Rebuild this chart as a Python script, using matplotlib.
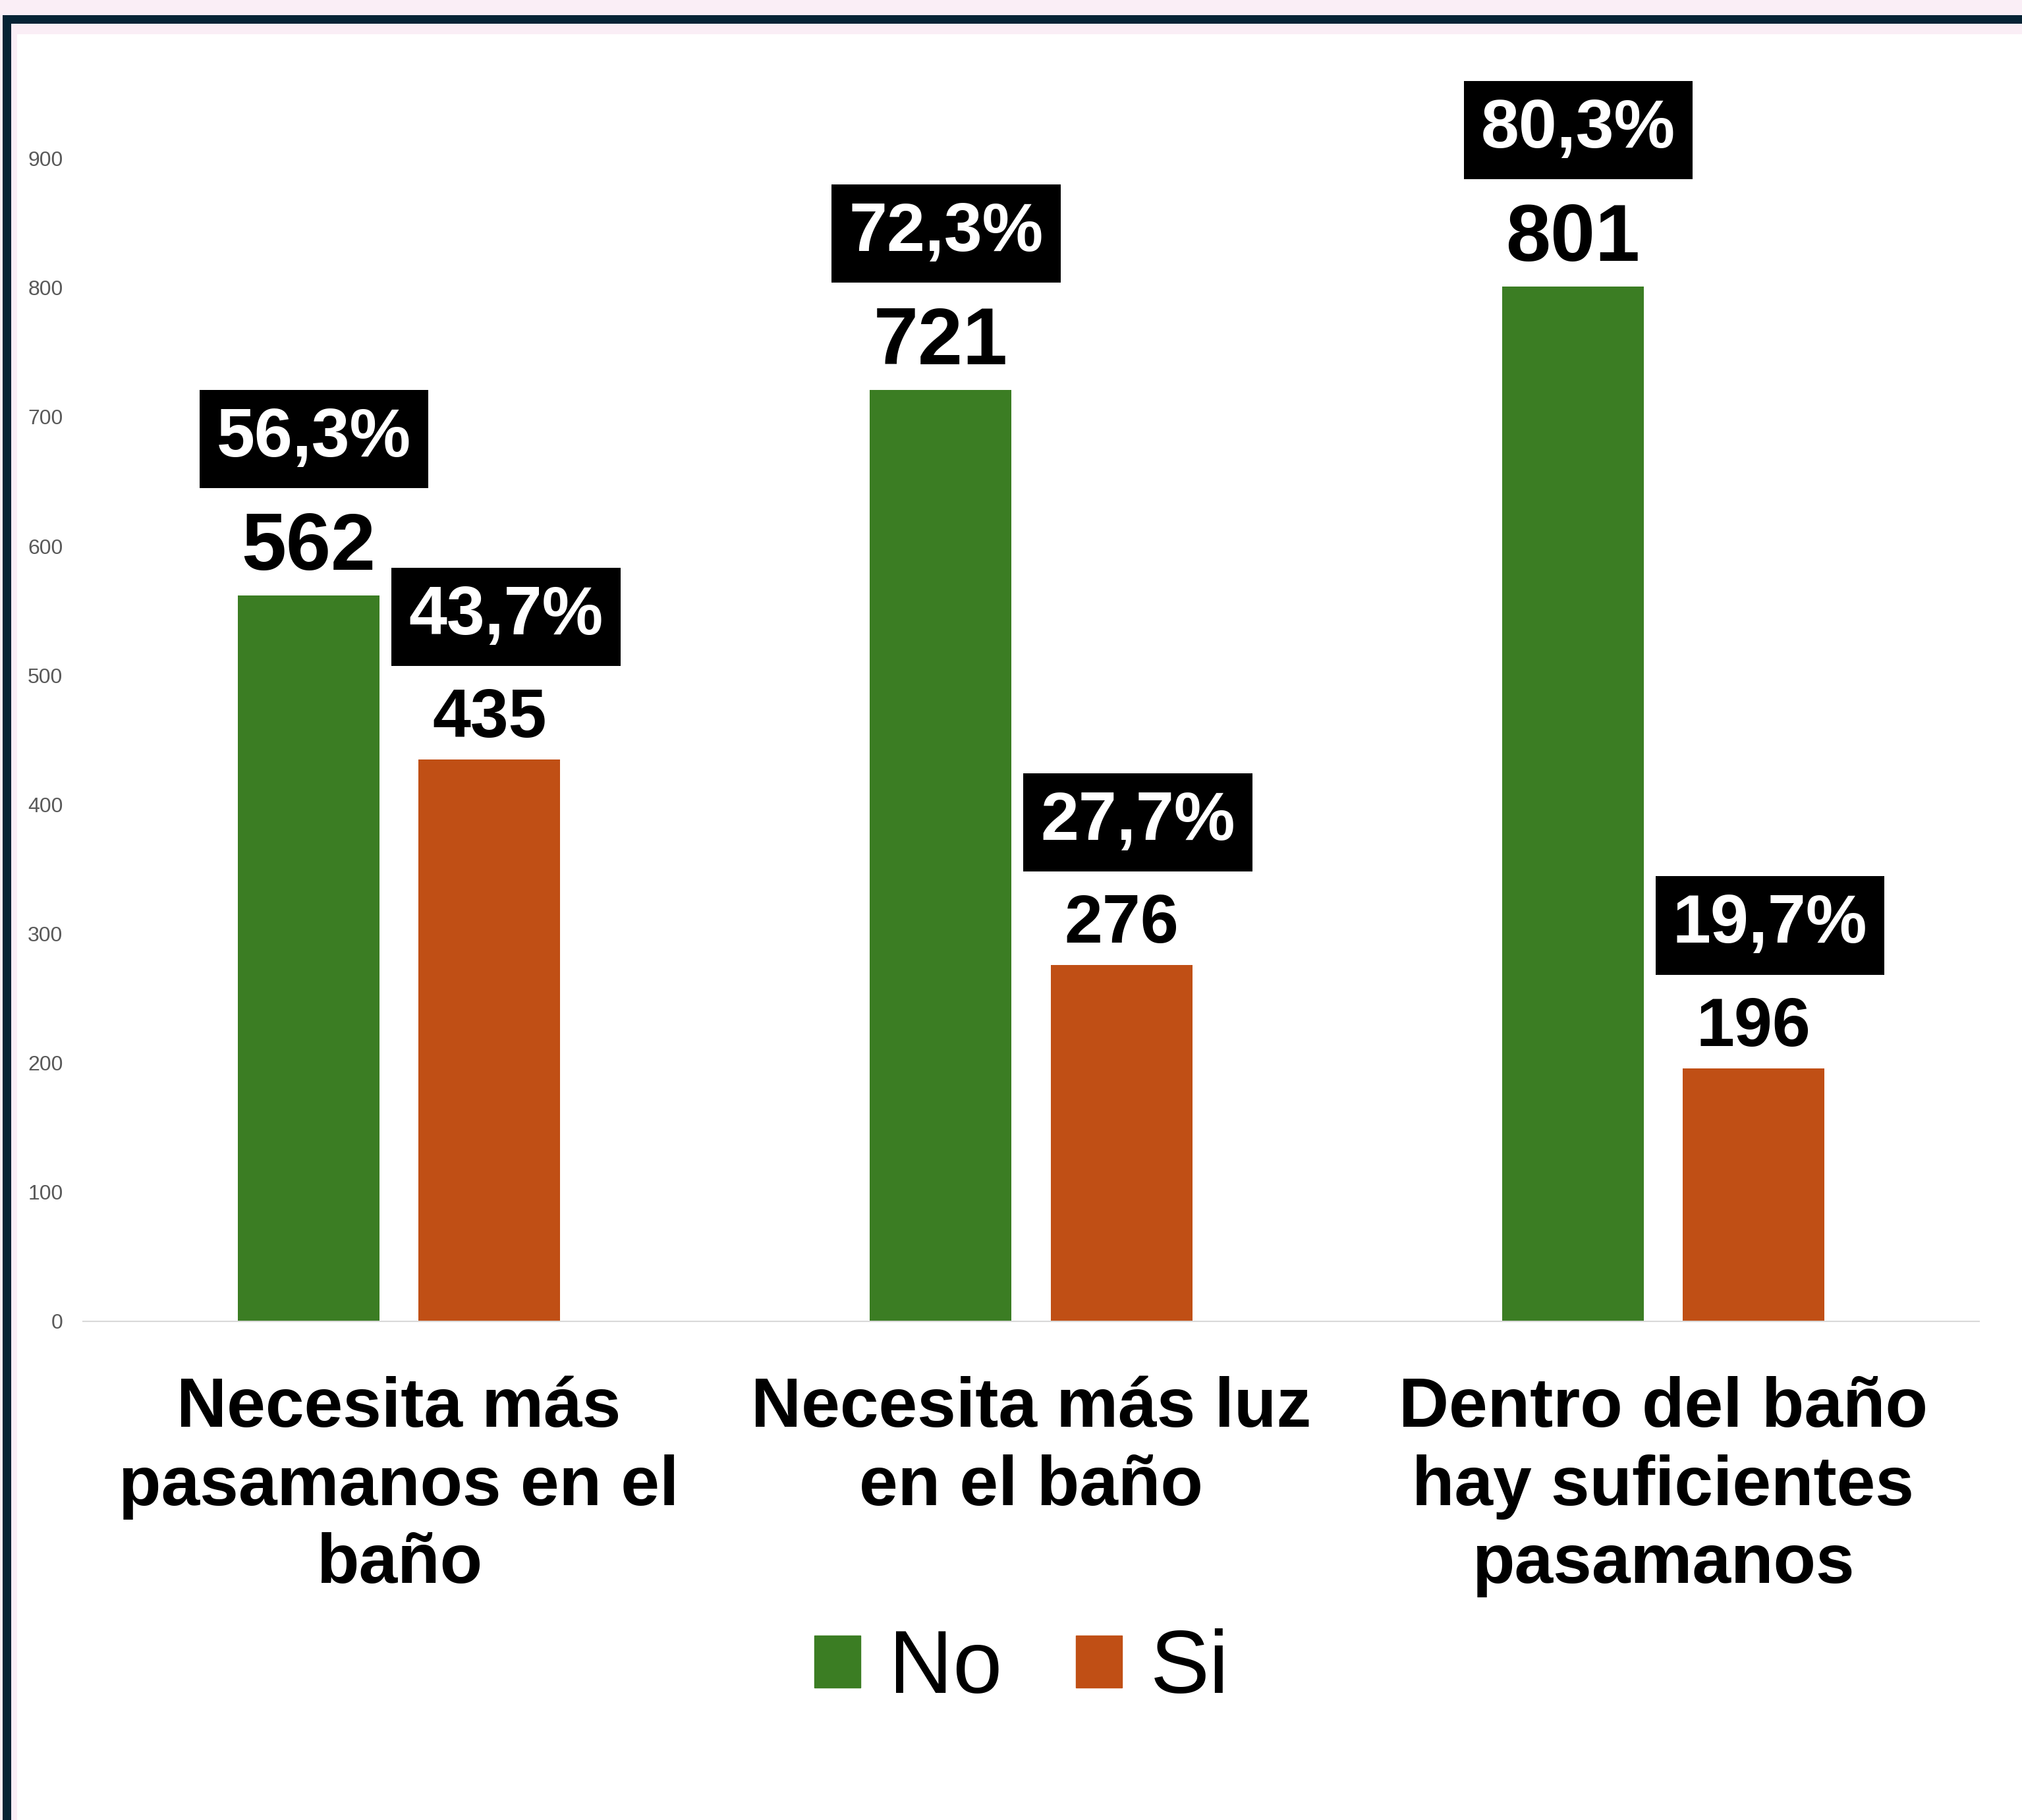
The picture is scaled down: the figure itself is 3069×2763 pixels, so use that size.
import matplotlib
matplotlib.use('Agg')
import matplotlib.pyplot as plt
from matplotlib.patches import Rectangle, Patch
import numpy as np

plt.rcParams['font.family'] = ['Liberation Sans', 'DejaVu Sans']

categories = ['Necesita más\npasamanos en el\nbaño',
              'Necesita más luz\nen el baño',
              'Dentro del baño\nhay suficientes\npasamanos']
series = ['No', 'Si']
no_vals = [562, 721, 801]
si_vals = [435, 276, 196]
no_pct = ['56,3%', '72,3%', '80,3%']
si_pct = ['43,7%', '27,7%', '19,7%']
yticks = [0, 100, 200, 300, 400, 500, 600, 700, 800, 900]

green = '#3B7D23'
orange = '#C04F15'
navy = '#062335'
pink = '#FAEEF6'

W, H = 3069, 2763
fig = plt.figure(figsize=(W / 100, H / 100), dpi=100, facecolor='white')

# screenshot frame: pink margin + dark border on top and left
def px_rect(x0, y0, x1, y1, color):
    fig.patches.append(Rectangle((x0 / W, 1 - y1 / H), (x1 - x0) / W, (y1 - y0) / H,
                                 transform=fig.transFigure, fc=color, ec='none', zorder=0))

px_rect(0, 0, W, 52, pink)
px_rect(0, 0, 26, H, pink)
px_rect(4, 23, W, 36, navy)
px_rect(4, 23, 17, H, navy)

ax = fig.add_axes([126 / W, 0.27398, 2878 / W, 950 * 1.9615 / H])
ax.set_facecolor('none')

x = np.arange(len(categories))
bw = 0.224
off = 0.143
b1 = ax.bar(x - off, no_vals, bw, color=green, label=series[0])
b2 = ax.bar(x + off, si_vals, bw, color=orange, label=series[1])

ax.set_xlim(-0.5, 2.5)
ax.set_ylim(0, 950)
ax.set_yticks(yticks)
ax.set_yticklabels([str(t) for t in yticks])
ax.tick_params(axis='y', length=0, pad=22, labelsize=23, labelcolor='#595959')
ax.set_xticks(x)
ax.set_xticklabels(categories, fontsize=76, fontweight='bold', linespacing=1.25)
ax.tick_params(axis='x', length=0, pad=60)

for s in ['top', 'right', 'left']:
    ax.spines[s].set_visible(False)
ax.spines['bottom'].set_color('#D9D9D9')
ax.spines['bottom'].set_linewidth(1.5)

# value labels and percent boxes
for xi, v, p in zip(x - off, no_vals, no_pct):
    ax.annotate(str(v), (xi, v), xytext=(0, 28), textcoords='offset points',
                ha='center', va='baseline', fontsize=88, fontweight='bold', color='black')
    ax.annotate(p, (xi, v), xytext=(6, 136), textcoords='offset points',
                ha='center', va='bottom', fontsize=75, fontweight='bold', color='white',
                bbox=dict(boxstyle='square,pad=0.25', fc='black', ec='none'))

for xi, v, p in zip(x + off, si_vals, si_pct):
    ax.annotate(str(v), (xi, v), xytext=(0, 24), textcoords='offset points',
                ha='center', va='baseline', fontsize=75, fontweight='bold', color='black')
    ax.annotate(p, (xi, v), xytext=(18, 121), textcoords='offset points',
                ha='center', va='bottom', fontsize=75, fontweight='bold', color='white',
                bbox=dict(boxstyle='square,pad=0.25', fc='black', ec='none'))

handles = [Patch(color=green, label='No'), Patch(color=orange, label='Si')]
fig.legend(handles=handles, loc='center', bbox_to_anchor=(1551 / W, 1 - 2535 / H),
           ncol=2, frameon=False, fontsize=97, handlelength=0.52, handleheight=0.52,
           handletextpad=0.32, columnspacing=0.83)

fig.savefig('out.png', dpi=100, facecolor='white')
